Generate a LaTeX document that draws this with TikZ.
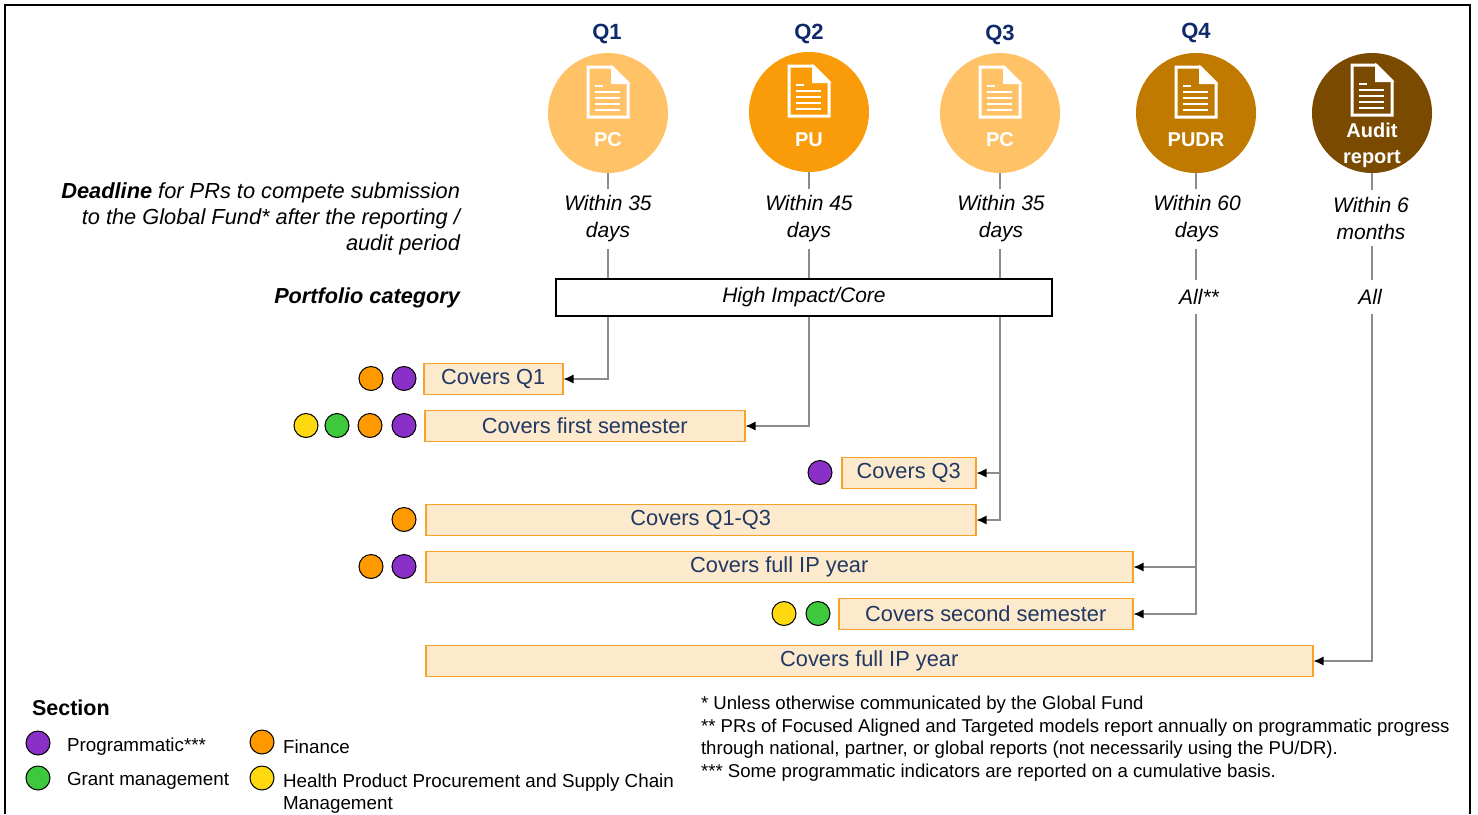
\documentclass[tikz,border=0pt]{standalone}
\usepackage{fontspec}
\setmainfont{Liberation Sans}
\usetikzlibrary{arrows.meta}

\definecolor{qnavy}{HTML}{0E2A6A}
\definecolor{barnavy}{HTML}{1F3864}
\definecolor{pcfill}{HTML}{FFC266}
\definecolor{pufill}{HTML}{FA9C0A}
\definecolor{pudrfill}{HTML}{C17A00}
\definecolor{auditfill}{HTML}{7A4A00}
\definecolor{barfill}{HTML}{FDE9CC}
\definecolor{barline}{HTML}{F9A22A}
\definecolor{linkgray}{HTML}{8C8C8C}
\definecolor{progc}{HTML}{8B2FC9}
\definecolor{finc}{HTML}{FF9900}
\definecolor{grantc}{HTML}{3EC83E}
\definecolor{supplyc}{HTML}{FFD910}

\newcommand{\docglyph}[4]{%
  \begin{scope}[shift={(#1,#2)}, yshift=#4]
    \filldraw[white, fill=#3, line width=1.5pt, line join=miter]
      (-20,-46) -- (4,-46) -- (20,-30) -- (20,4) -- (-20,4) -- cycle;
    \filldraw[white, line width=1pt] (4,-46) -- (4,-30) -- (20,-30) -- cycle;
    \draw[white, line width=1.2pt] (-13,-27) -- (-5,-27);
    \foreach \r in {-21,-15,-9,-3} \draw[white, line width=1.2pt] (-13,\r) -- (12,\r);
  \end{scope}}

\begin{document}
\begin{tikzpicture}[x=0.5pt, y=-0.5pt,
  quarter/.style={font=\fontsize{11}{13}\selectfont\bfseries, text=qnavy},
  report/.style={circle, minimum size=60pt, inner sep=0pt},
  replabel/.style={font=\fontsize{10}{12}\selectfont\bfseries, text=white, align=center},
  deadline/.style={font=\fontsize{10.5}{13.5}\selectfont\itshape, align=center},
  barbox/.style={draw=barline, fill=barfill, line width=0.75pt, minimum height=15.5pt,
    inner sep=0pt, text=barnavy, font=\fontsize{10.9}{12}\selectfont, anchor=west},
  dot/.style={circle, draw=black, line width=0.5pt, minimum size=12pt, inner sep=0pt},
  link/.style={draw=linkgray, line width=0.6pt},
  feed/.style={link, -{Latex[color=black, length=5pt, width=4.5pt]}},
  legend/.style={font=\fontsize{9.4}{11}\selectfont, anchor=west, align=left}]
\useasboundingbox (0,0) rectangle (1478,814);
\draw[line width=0.8pt] (5,814) -- (5,5) -- (1470,5) -- (1470,814);

\node[quarter] (q1) at (607,34) {Q1};
\node[quarter] (q2) at (809,34) {Q2};
\node[quarter] (q3) at (1000,35) {Q3};
\node[quarter] (q4) at (1196,33) {Q4};

\node[report, fill=pcfill] (c1) at (608,113) {};
\node[report, fill=pufill] (c2) at (809,112) {};
\node[report, fill=pcfill] (c3) at (1000,113) {};
\node[report, fill=pudrfill] (c4) at (1196,113) {};
\node[report, fill=auditfill] (c5) at (1372,113) {};
\docglyph{608}{113}{pcfill}{0pt}
\docglyph{809}{112}{pufill}{0pt}
\docglyph{1000}{113}{pcfill}{0pt}
\docglyph{1196}{113}{pudrfill}{0pt}
\docglyph{1372}{113}{auditfill}{1pt}
\node[replabel] (l1) at (608,140) {PC};
\node[replabel] (l2) at (809,140) {PU};
\node[replabel] (l3) at (1000,140) {PC};
\node[replabel] (l4) at (1196,140) {PUDR};
\node[replabel, font=\fontsize{10}{13}\selectfont\bfseries] (l5) at (1372,145) {Audit\\report};

\node[deadline] (w1) at (608,219) {Within 35\\days};
\node[deadline] (w2) at (809,219) {Within 45\\days};
\node[deadline] (w3) at (1001,219) {Within 35\\days};
\node[deadline] (w4) at (1197,219) {Within 60\\days};
\node[deadline] (w5) at (1371,218) {Within 6\\months};

\node[deadline, font=\fontsize{10.9}{13}\selectfont\itshape, align=right, anchor=east] (dlabel) at (467,219)
  {\textbf{Deadline} for PRs to compete submission\\to the Global Fund* after the reporting /\\audit period};
\node[deadline, font=\fontsize{10.85}{13}\selectfont\bfseries\itshape, anchor=east] (plabel) at (467,298) {Portfolio category};

\node[draw, line width=0.75pt, fill=white, minimum width=248pt, minimum height=18.5pt,
  font=\fontsize{10.5}{12}\selectfont\itshape] (hic) at (804,297.5) {High Impact/Core};
\node[deadline, minimum height=17pt] (all4) at (1199,297) {All**};
\node[deadline, minimum height=17pt] (all5) at (1370,297) {All};

\foreach \i in {1,...,5} \draw[link] (c\i.south) -- (c\i |- w\i.north);
\foreach \i in {1,2,3} \draw[link] (c\i |- w\i.south) -- (c\i |- hic.north);
\foreach \i in {4,5} \draw[link] (c\i |- w\i.south) -- (c\i |- all\i.north);

\node[barbox, minimum width=69.5pt] (b1) at (423,379) {Covers Q1};
\node[barbox, minimum width=160pt] (b2) at (424,426) {Covers first semester};
\node[barbox, minimum width=67pt] (b3) at (841,473) {Covers Q3};
\node[barbox, minimum width=275pt] (b4) at (425,520) {Covers Q1-Q3};
\node[barbox, minimum width=353.5pt] (b5) at (425,567) {Covers full IP year};
\node[barbox, minimum width=147pt] (b6) at (838,614) {Covers second semester};
\node[barbox, minimum width=443.5pt] (b7) at (425,661) {Covers full IP year};

\draw[feed] (c1 |- hic.south) |- (b1.east);
\draw[feed] (c2 |- hic.south) |- (b2.east);
\draw[feed] (c3 |- hic.south) |- (b3.east);
\draw[feed] (c3 |- hic.south) |- (b4.east);
\draw[feed] (c4 |- all4.south) |- (b5.east);
\draw[feed] (c4 |- all4.south) |- (b6.east);
\draw[feed] (c5 |- all5.south) |- (b7.east);

\foreach \c/\x/\y [count=\i] in {finc/371/378.5, progc/404/378.5,
  supplyc/306/425.5, grantc/337/425.5, finc/370/425.5, progc/404/425.5,
  progc/820/472.5, finc/404/519.5, finc/371/566.5, progc/404/566.5,
  supplyc/784/613.5, grantc/818/613.5}
  \node[dot, fill=\c] (dot\i) at (\x,\y) {};

\node[font=\fontsize{10.75}{12}\selectfont\bfseries, anchor=west] (sect) at (25,708) {Section};
\node[dot, fill=progc] (kprog) at (38,743) {};
\node[dot, fill=grantc] (kgrant) at (38,778) {};
\node[dot, fill=finc] (kfin) at (262,742) {};
\node[dot, fill=supplyc] (ksupply) at (262,778) {};
\node[legend] (tprog) at (60,747) {Programmatic***};
\node[legend] (tgrant) at (60,781) {Grant management};
\node[legend] (tfin) at (276,747) {Finance};
\node[legend] (tsupply) at (276,794) {Health Product Procurement and Supply Chain\\Management};

\node[legend, font=\fontsize{9.3}{11.25}\selectfont] (notes) at (694,738.5)
  {* Unless otherwise communicated by the Global Fund\\
   ** PRs of Focused Aligned and Targeted models report annually on programmatic progress\\
   through national, partner, or global reports (not necessarily using the PU/DR).\\
   *** Some programmatic indicators are reported on a cumulative basis.};
\end{tikzpicture}
\end{document}
